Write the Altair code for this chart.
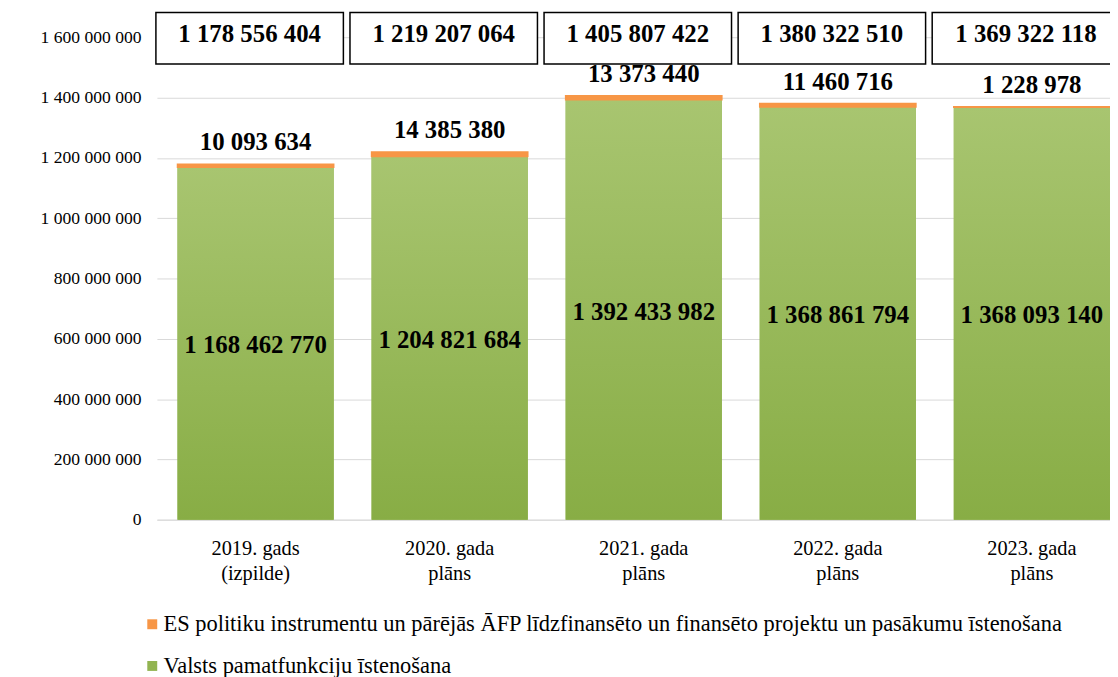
import altair as alt
import pandas as pd

categories = ["2019. gads (izpilde)", "2020. gada plāns", "2021. gada plāns",
              "2022. gada plāns", "2023. gada plāns"]
valsts = [1168462770, 1204821684, 1392433982, 1368861794, 1368093140]
es = [10093634, 14385380, 13373440, 11460716, 1228978]
series_names = [
    "ES politiku instrumentu un pārējās ĀFP līdzfinansēto un finansēto projektu un pasākumu īstenošana",
    "Valsts pamatfunkciju īstenošana",
]
y_ticks = [0, 200000000, 400000000, 600000000, 800000000,
           1000000000, 1200000000, 1400000000, 1600000000]


def fmt(v):
    return f"{int(v):,}".replace(",", " ")


rows = []
for c, g, e in zip(categories, valsts, es):
    rows.append(dict(cat=c, series=series_names[1], start=0, end=g))
    rows.append(dict(cat=c, series=series_names[0], start=g, end=g + e))
seg = pd.DataFrame(rows)

tot = pd.DataFrame(dict(
    cat=categories,
    green=valsts,
    total=[g + e for g, e in zip(valsts, es)],
    mid=[g / 2 for g in valsts],
    green_label=[fmt(g) for g in valsts],
    es_label=[fmt(e) for e in es],
    total_label=[fmt(g + e) for g, e in zip(valsts, es)],
))

FONT = "Liberation Serif"
ORANGE = "#f79646"
GREEN = "#92b451"

x_axis = alt.Axis(
    title=None, labelAngle=0, ticks=False, domainColor="#d9d9d9", domainWidth=1,
    labelFont=FONT, labelFontSize=20.5, labelColor="#000000", labelPadding=19,
    labelLineHeight=25,
    labelExpr="[split(datum.label,' ')[0] + ' ' + split(datum.label,' ')[1], split(datum.label,' ')[2]]",
)
x_scale = alt.Scale(paddingInner=0.195, paddingOuter=0.053, align=1)
y_scale = alt.Scale(domain=[0, 1600000000], nice=False)
y_axis = alt.Axis(
    title=None, values=y_ticks, domain=False, ticks=False, gridColor="#d9d9d9",
    gridWidth=1, labelFont=FONT, labelFontSize=17.7, labelColor="#000000",
    labelPadding=16,
    labelExpr="replace(format(datum.value, ','), regexp(',', 'g'), ' ')",
)


def X():
    return alt.X("cat:N", sort=categories, scale=x_scale, axis=x_axis)


def Y(field):
    return alt.Y(field, scale=y_scale, axis=y_axis)


bars = alt.Chart(seg).mark_bar().encode(
    x=X(),
    y=Y("start:Q"),
    y2="end:Q",
    color=alt.Color(
        "series:N",
        scale=alt.Scale(domain=series_names, range=[ORANGE, GREEN]),
        legend=alt.Legend(
            title=None, orient="none", legendX=-16, legendY=580, direction="vertical",
            symbolType="square", symbolSize=100, symbolStrokeWidth=0,
            labelFont=FONT, labelFontSize=22.6, labelColor="#000000", labelLimit=0,
            labelOffset=0, rowPadding=19, padding=0,
        ),
    ),
)

grad = alt.LinearGradient(
    gradient="linear", x1=0, x2=0, y1=0, y2=1,
    stops=[alt.GradientStop(color="#a8c570", offset=0),
           alt.GradientStop(color="#88ad45", offset=1)],
)

green_bars = alt.Chart(tot).mark_bar(color=grad).encode(x=X(), y=Y("green:Q"))

orange_bars = alt.Chart(seg).transform_filter(
    alt.datum.series == series_names[0]
).mark_bar(color=ORANGE, stroke=ORANGE, strokeWidth=1.5).encode(
    x=X(), y=Y("start:Q"), y2="end:Q"
)

green_text = alt.Chart(tot).mark_text(
    font=FONT, fontSize=25, fontWeight="bold", color="#000000", baseline="middle", dy=2
).encode(x=X(), y=Y("mid:Q"), text="green_label:N")

es_text = alt.Chart(tot).mark_text(
    font=FONT, fontSize=25, fontWeight="bold", color="#000000", baseline="middle", dy=-22
).encode(x=X(), y=Y("total:Q"), text="es_label:N")

boxes = alt.Chart(tot).mark_bar(
    fill="white", stroke="black", strokeWidth=1.5, width=alt.RelativeBandSize(1.2),
    xOffset=-6,
).encode(x=X(), y=alt.value(-25), y2=alt.value(27))

box_text = alt.Chart(tot).mark_text(
    font=FONT, fontSize=25, fontWeight="bold", color="#000000", baseline="middle", dx=-6
).encode(x=X(), y=alt.value(-3), text="total_label:N")

chart = alt.layer(bars, green_bars, orange_bars, green_text, es_text, boxes, box_text).properties(
    width=960, height=486,
    autosize=alt.AutoSizeParams(type="none"),
    padding={"left": 150, "top": 27, "right": 0, "bottom": 156},
).configure_view(stroke=None)

chart.save("out.html", embed_options={"renderer": "svg", "actions": False})
